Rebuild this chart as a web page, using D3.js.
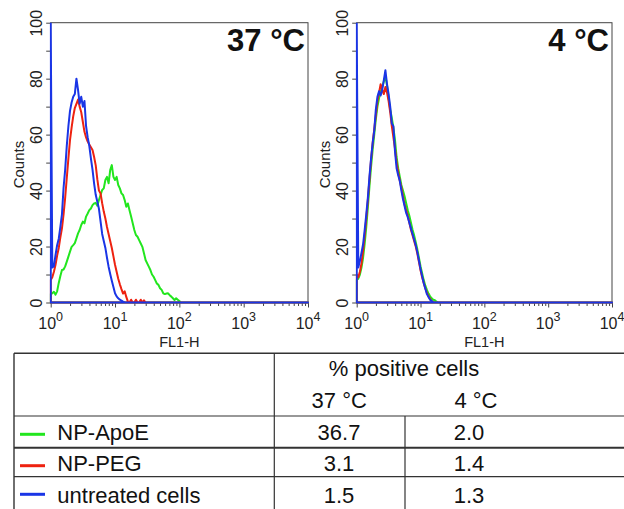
<!DOCTYPE html>
<html><head><meta charset="utf-8">
<script src="https://cdn.jsdelivr.net/npm/d3@7"></script>
<style>body{margin:0;background:#fff} svg{display:block} text{font-family:"Liberation Sans",Arial,sans-serif}</style>
</head><body><svg id="c" width="624" height="509"></svg>
<script>
// FL1-H channel positions (fluorescence intensity)
const fl1 = [1, 1.059, 1.122, 1.189, 1.259, 1.334, 1.413, 1.496, 1.585, 1.679,
  1.778, 1.884, 1.995, 2.113, 2.239, 2.371, 2.512, 2.661, 2.818, 2.985,
  3.162, 3.350, 3.548, 3.758, 3.981, 4.217, 4.467, 4.732, 5.012, 5.309,
  5.623, 5.957, 6.310, 6.683, 7.079, 7.499, 7.943, 8.414, 8.913, 9.441,
  10.00, 10.59, 11.22, 11.89, 12.59, 13.34, 14.13, 14.96, 15.85, 16.79,
  17.78, 18.84, 19.95, 21.13, 22.39, 23.71, 25.12, 26.61, 28.18, 29.85,
  31.62, 33.50, 35.48, 37.58, 39.81, 42.17, 44.67, 47.32, 50.12, 53.09,
  56.23, 59.57, 63.10, 66.83, 70.79, 74.99, 79.43, 84.14, 89.13, 94.41,
  100.0, 105.9, 112.2, 10000];

// Counts, 37 °C
const apoE37 = [3, 3.3, 3.8, 2.8, 4, 7, 9.5, 11.6, 11.8, 12.9,
  14.6, 16.4, 18.2, 19.9, 20.5, 21.2, 22.9, 24.7, 25.9, 27.7,
  28.9, 28.3, 30.7, 31.8, 33, 33.6, 34.8, 35.4, 35.6, 34.6,
  36.6, 38.4, 40.2, 40.8, 43.8, 44.9, 42.6, 47.3, 49.1, 44.9,
  43.8, 44.9, 42, 40.8, 39, 38.4, 36.6, 34.2, 35.4, 33,
  30.7, 28.3, 25.9, 24.1, 23.5, 22.3, 21.1, 19.9, 17.6, 15.2,
  14, 12.8, 11.6, 10, 9.2, 8, 6.8, 6.3, 5.1, 4.5,
  3.3, 3, 3.2, 3.3, 2.6, 2.1, 1.5, 0.9, 1.5, 1,
  0.5, 0, 0, 0];
const peg37 = [8, 9, 11, 13.5, 16.8, 19.5, 23.3, 26.5, 31.5, 37.5,
  44.5, 51.5, 58, 62.5, 66.5, 69.5, 71, 72.5, 70, 68,
  64.5, 61, 59, 57.5, 56.5, 55.5, 54.5, 52, 49, 44,
  40, 39, 35.5, 32.5, 30, 27, 24.5, 22, 19.5, 16.5,
  13.5, 11, 8.5, 6.5, 4.8, 3.2, 4, 2, 0.3, 0,
  1, 0, 0, 1, 0, 0, 1, 0, 0.8, 0,
  0, 0, 0, 0, 0, 0, 0, 0, 0, 0,
  0, 0, 0, 0, 0, 0, 0, 0, 0, 0,
  0, 0, 0, 0];
const untreated37 = [100, 12.5, 13, 17, 20.5, 22.8, 27, 31.5, 41, 47.5,
  56, 63, 68.5, 71.5, 73.5, 74.5, 80, 76, 71, 73.5,
  70, 72, 63, 59, 56, 51.5, 47.5, 42.5, 38.5, 36,
  33.5, 29, 24.5, 22, 19.5, 16, 12.8, 10.2, 7.8, 5.5,
  3.3, 2.2, 1.5, 1, 0.7, 0.3, 0, 0, 0, 0,
  0, 0, 0, 0, 0, 0, 0, 0, 0, 0,
  0, 0, 0, 0, 0, 0, 0, 0, 0, 0,
  0, 0, 0, 0, 0, 0, 0, 0, 0, 0,
  0, 0, 0, 0];

// Counts, 4 °C
const apoE4 = [8, 8.5, 10, 12.5, 16, 21, 27, 34, 41.5, 48.5,
  54.5, 60, 65.5, 70, 73, 75.5, 77, 79, 81, 77.5,
  73, 69, 66, 62.5, 58, 52, 48, 45, 42, 40,
  38, 35.5, 33, 31, 28.5, 26, 24, 21.5, 19, 16,
  13, 10.5, 8, 6, 4.5, 3.2, 2.2, 1.5, 1, 0.8,
  0.3, 0, 0, 0, 0, 0, 0, 0, 0, 0,
  0, 0, 0, 0, 0, 0, 0, 0, 0, 0,
  0, 0, 0, 0, 0, 0, 0, 0, 0, 0,
  0, 0, 0, 0];
const peg4 = [10, 9, 11, 14, 18.5, 24, 30, 36.5, 44, 51,
  57, 62, 67, 72, 75, 78, 76, 74.5, 77, 75,
  72, 68, 63, 59, 55, 50, 46.5, 43.5, 41, 38,
  35, 33, 31, 28.5, 26, 24, 22, 20, 17.5, 14.5,
  11.5, 9, 7, 5, 3.5, 2.2, 1.3, 0.6, 0, 0,
  0, 0, 0, 0, 0, 0, 0, 0, 0, 0,
  0, 0, 0, 0, 0, 0, 0, 0, 0, 0,
  0, 0, 0, 0, 0, 0, 0, 0, 0, 0,
  0, 0, 0, 0];
const untreated4 = [100, 12.5, 14.8, 17.8, 20.8, 26, 31.5, 37.5, 45, 51.5,
  57, 61.5, 69, 73.5, 75.5, 74, 76, 79.5, 83, 78,
  74.5, 70, 64, 63, 54, 48, 45.5, 43.5, 40, 37,
  34.5, 32, 30.5, 28.5, 26.5, 24.5, 22.5, 20.5, 18, 15,
  12, 9.5, 7, 5, 3, 2, 1, 0.5, 0, 0,
  0, 0, 0, 0, 0, 0, 0, 0, 0, 0,
  0, 0, 0, 0, 0, 0, 0, 0, 0, 0,
  0, 0, 0, 0, 0, 0, 0, 0, 0, 0,
  0, 0, 0, 0];

const panelTitles = ["37 °C", "4 °C"];
const xMajorTicks = [1, 10, 100, 1000, 10000];
const xTickExponents = ["0", "1", "2", "3", "4"];
const yTickValues = [0, 10, 20, 30, 40, 50, 60, 70, 80, 90, 100];
const yLabelled = [0, 20, 40, 60, 80, 100];
const seriesNames = ["NP-ApoE", "NP-PEG", "untreated cells"];
const seriesColors = ["#22e61e", "#ee2210", "#1a35e6"];
const tableHeader = "% positive cells";
const tableCols = ["37 °C", "4 °C"];
const pct37 = ["36.7", "3.1", "1.5"];
const pct4 = ["2.0", "1.4", "1.3"];

const svg = d3.select("#c");
const yTop = 22.7, yBot = 302.5;
const panels = [
  {x0: 50.7, x1: 308, series: [apoE37, peg37, untreated37], title: panelTitles[0]},
  {x0: 356.7, x1: 612, series: [apoE4, peg4, untreated4], title: panelTitles[1]}
];
const minorVals = [];
[1, 10, 100, 1000].forEach(d => { for (let m = 2; m <= 9; m++) minorVals.push(d * m); });

panels.forEach((p, pi) => {
  const x = d3.scaleLog().domain([1, 10000]).range([p.x0, p.x1]);
  const y = d3.scaleLinear().domain([0, 100]).range([yBot, yTop]);
  const g = svg.append("g");

  // frame
  g.append("rect").attr("x", p.x0).attr("y", yTop).attr("width", p.x1 - p.x0).attr("height", yBot - yTop)
    .attr("fill", "none").attr("stroke", "#444").attr("stroke-width", 1);

  // y axis
  const ya = g.append("g").attr("transform", `translate(${p.x0},0)`)
    .call(d3.axisLeft(y).tickValues(yTickValues).tickSize(4.5)
      .tickFormat(d => yLabelled.includes(d) ? String(d) : ""));
  ya.select(".domain").remove();
  ya.selectAll("line").attr("stroke", "#444");
  ya.selectAll("text").attr("transform", "rotate(-90)").attr("x", 0).attr("y", -8.8)
    .attr("dy", 0).attr("text-anchor", "middle").attr("font-size", 16)
    .attr("fill", "#222").attr("font-family", '"Liberation Sans", Arial, sans-serif');

  // x axis major
  const xa = g.append("g").attr("transform", `translate(0,${yBot})`)
    .call(d3.axisBottom(x).tickValues(xMajorTicks).tickSize(5).tickFormat(""));
  xa.select(".domain").remove();
  xa.selectAll("line").attr("stroke", "#444");
  const xm = g.append("g").attr("transform", `translate(0,${yBot})`)
    .call(d3.axisBottom(x).tickValues(minorVals).tickSize(3.5).tickFormat(""));
  xm.select(".domain").remove();
  xm.selectAll("line").attr("stroke", "#444");

  // x tick labels 10^n
  xMajorTicks.forEach((v, i) => {
    const t = g.append("text").attr("x", x(v)).attr("y", yBot + 26.5)
      .attr("text-anchor", "middle").attr("fill", "#222").attr("font-size", 16);
    t.append("tspan").text("10");
    t.append("tspan").attr("dy", -8).attr("font-size", 12.5).text(xTickExponents[i]);
  });

  // axis titles
  g.append("text").attr("x", (p.x0 + p.x1) / 2).attr("y", 346.5)
    .attr("text-anchor", "middle").attr("font-size", 14.5).attr("fill", "#222").text("FL1-H");
  g.append("text").attr("transform", `translate(${p.x0 - 27},${(yTop + yBot) / 2 + 2}) rotate(-90)`)
    .attr("text-anchor", "middle").attr("font-size", 15).attr("fill", "#222").text("Counts");

  // histograms
  const clipId = "clip" + pi;
  svg.append("clipPath").attr("id", clipId).append("rect")
    .attr("x", p.x0 - 1).attr("y", yTop).attr("width", p.x1 - p.x0 + 2).attr("height", yBot - yTop + 1.5);
  const area = d3.area().x(d => x(d[0])).y0(y(0)).y1(d => y(d[1]));
  const cg = g.append("g").attr("clip-path", `url(#${clipId})`);
  p.series.forEach((s, si) => {
    cg.append("path").datum(fl1.map((v, i) => [v, s[i]]))
      .attr("d", area).attr("fill", "none").attr("stroke", seriesColors[si])
      .attr("stroke-width", 2).attr("stroke-linejoin", "round");
  });

  // title
  g.append("text").attr("x", p.x1 - 3).attr("y", 51).attr("text-anchor", "end")
    .attr("font-size", 31).attr("font-weight", "bold").attr("fill", "#111").text(p.title);
});

// table
const tb = svg.append("g");
const lc = "#333";
const tL = 14, tR = 624, c1 = 274.3, c2 = 405;
const hTop = 353.3, hBot = 416, r1 = 447.7, r2 = 476.7, tBot = 509;
function hl(y, x0, x1, w) { tb.append("line").attr("x1", x0).attr("x2", x1).attr("y1", y).attr("y2", y).attr("stroke", lc).attr("stroke-width", w); }
function vl(x, y0, y1, w) { tb.append("line").attr("x1", x).attr("x2", x).attr("y1", y0).attr("y2", y1).attr("stroke", lc).attr("stroke-width", w); }
hl(hTop, tL, tR, 1.4); hl(hBot, tL, tR, 1.2); hl(r1, tL, tR, 2); hl(r2, tL, tR, 1.2);
vl(tL, hTop, tBot, 1.4); vl(c1, hTop, tBot, 1.2); vl(c2, hBot, tBot, 1.2);

const fs = 22;
tb.append("text").attr("x", 404).attr("y", 376).attr("text-anchor", "middle").attr("font-size", fs).attr("fill", "#111").text(tableHeader);
tb.append("text").attr("x", 339.2).attr("y", 408.3).attr("text-anchor", "middle").attr("font-size", fs).attr("fill", "#111").text(tableCols[0]);
tb.append("text").attr("x", 476).attr("y", 408.3).attr("text-anchor", "middle").attr("font-size", fs).attr("fill", "#111").text(tableCols[1]);
const rowBase = [440, 470.7, 503.3], rowMid = [434.3, 465.7, 494.3];
seriesNames.forEach((n, i) => {
  tb.append("line").attr("x1", 20).attr("x2", 45).attr("y1", rowMid[i]).attr("y2", rowMid[i])
    .attr("stroke", seriesColors[i]).attr("stroke-width", 3);
  tb.append("text").attr("x", 57.3).attr("y", rowBase[i]).attr("font-size", fs).attr("fill", "#111").text(n);
  tb.append("text").attr("x", 339).attr("y", rowBase[i]).attr("text-anchor", "middle").attr("font-size", fs).attr("fill", "#111").text(pct37[i]);
  tb.append("text").attr("x", 469).attr("y", rowBase[i]).attr("text-anchor", "middle").attr("font-size", fs).attr("fill", "#111").text(pct4[i]);
});
</script></body></html>
